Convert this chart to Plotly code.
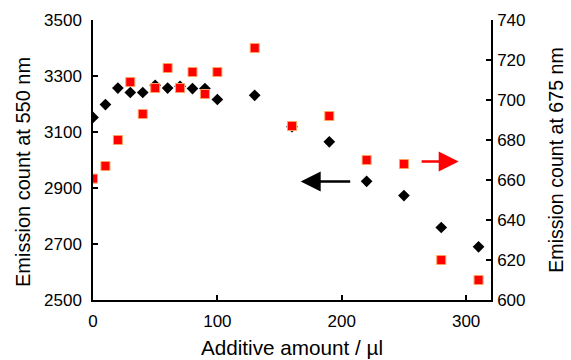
import plotly.graph_objects as go

additive = [0, 10, 20, 30, 40, 50, 60, 70, 80, 90, 100, 130, 160, 190, 220, 250, 280, 310]
emission_550 = [3152, 3198, 3257, 3241, 3241, 3267, 3257, 3263, 3255, 3255, 3216, 3231,
                3119, 3065, 2924, 2873, 2759, 2690]
emission_675 = [660.7, 667, 680, 709, 693, 706, 716, 706, 714, 703, 714, 726,
                687, 692, 670, 668, 620, 610]

FONT = "Liberation Sans, Arial, sans-serif"

fig = go.Figure()
fig.add_trace(go.Scatter(
    x=additive, y=emission_550, mode="markers", yaxis="y",
    marker=dict(symbol="diamond", size=9, color="black", line=dict(width=0)),
    showlegend=False))
fig.add_trace(go.Scatter(
    x=additive, y=emission_675, mode="markers", yaxis="y2",
    marker=dict(symbol="square", size=9, color="#ff0000",
                line=dict(width=1, color="#ffa060")),
    showlegend=False))

axis_common = dict(showgrid=False, zeroline=False, showline=True, linecolor="black",
                   linewidth=1.5, ticks="inside", ticklen=5, tickwidth=1.5,
                   automargin=False,
                   tickcolor="black", tickfont=dict(family=FONT, size=17, color="black"))

fig.update_layout(
    width=571, height=360,
    margin=dict(l=93, r=80, t=20, b=60),
    plot_bgcolor="white", paper_bgcolor="white",
    xaxis=dict(range=[0, 320], tickvals=[0, 100, 200, 300], ticklabelstandoff=5,
               title=dict(text="Additive amount / µl",
                          font=dict(family=FONT, size=20.7, color="black"), standoff=10),
               **axis_common),
    yaxis=dict(range=[2500, 3500], tick0=2500, dtick=200, ticklabelstandoff=6,
               **axis_common),
    yaxis2=dict(range=[600, 740], tick0=600, dtick=20, overlaying="y", side="right",
                ticklabelstandoff=1,
                title=dict(text="Emission count at 675 nm",
                           font=dict(family=FONT, size=19.6, color="black"), standoff=25),
                **axis_common),
    annotations=[
        dict(text="Emission count at 550 nm", textangle=-90, showarrow=False,
             xref="paper", yref="paper", x=0, y=0.5, xanchor="center", yanchor="middle",
             xshift=-93 + 23, yshift=-12,
             font=dict(family=FONT, size=20, color="black")),
        dict(x=167, y=2923, xref="x", yref="y", ax=208, ay=2923, axref="x", ayref="y",
             showarrow=True, arrowhead=2, arrowsize=1.6, arrowwidth=2.5,
             arrowcolor="black", text=""),
        dict(x=294, y=669.2, xref="x", yref="y2", ax=263, ay=669.2, axref="x", ayref="y2",
             showarrow=True, arrowhead=2, arrowsize=1.6, arrowwidth=2.5,
             arrowcolor="#ff0000", text=""),
    ],
)

fig.write_html("out.html")
